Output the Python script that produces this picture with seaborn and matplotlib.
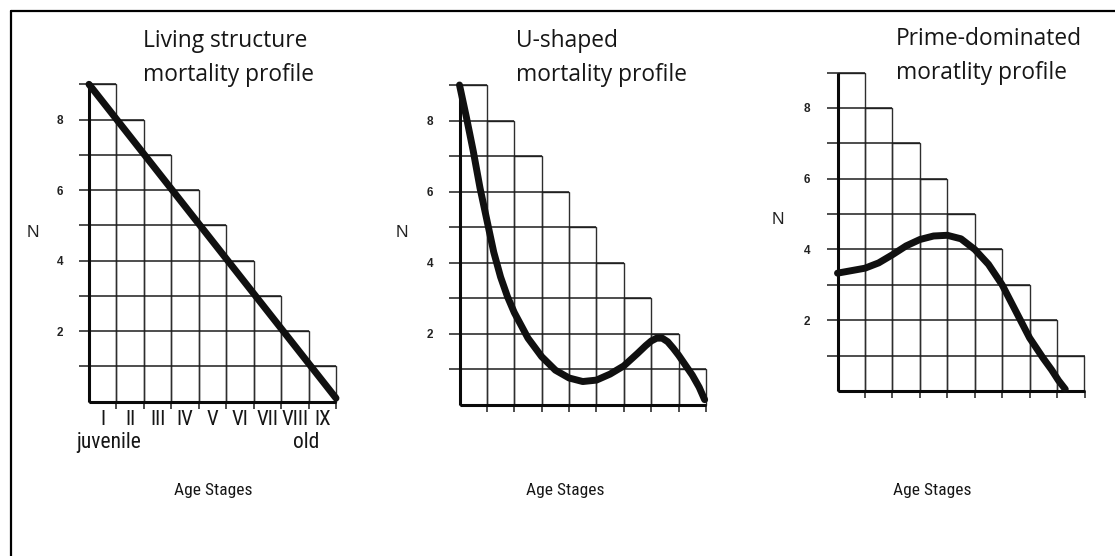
import numpy as np
import matplotlib
matplotlib.use("Agg")
import matplotlib.pyplot as plt
from matplotlib.lines import Line2D
import seaborn as sns

# ---------------- data ----------------
stage_labels = ["I", "II", "III", "IV", "V", "VI", "VII", "VIII", "IX"]
bar_heights = [9, 8, 7, 6, 5, 4, 3, 2, 1]
y_ticks = [2, 4, 6, 8]
y_tick_labels = ["2", "4", "6", "8"]

title_lines = [
    ("Living structure", "mortality profile"),
    ("U-shaped", "mortality profile"),
    ("Prime-dominated", "moratlity profile"),
]
x_label = "Age Stages"
y_label = "N"
age_notes = ["juvenile", "old"]

# curves, x measured in age-stage widths from the left axis
living_x = [0.0, 9.0]
living_n = [9.0, 0.1]

ushape_x = [0.0, 0.25, 0.5, 0.75, 1.0, 1.25, 1.5, 1.75, 2.0, 2.5, 3.0, 3.5,
            4.0, 4.5, 5.0, 5.5, 6.0, 6.5, 6.8, 7.0, 7.2, 7.4, 7.6, 7.8,
            8.0, 8.25, 8.5, 8.75, 8.95]
ushape_n = [9.0, 8.1, 7.15, 6.1, 5.2, 4.3, 3.6, 3.05, 2.6, 1.88, 1.36, 0.98,
            0.76, 0.66, 0.70, 0.87, 1.1, 1.45, 1.67, 1.8, 1.88, 1.88, 1.78, 1.6,
            1.4, 1.12, 0.84, 0.5, 0.15]

prime_x = [0.0, 0.5, 1.0, 1.5, 2.0, 2.5, 3.0, 3.5, 4.0, 4.5, 5.0, 5.5,
           6.0, 6.5, 7.0, 7.5, 7.8, 8.05, 8.3]
prime_n = [3.33, 3.4, 3.47, 3.62, 3.85, 4.1, 4.28, 4.38, 4.4, 4.3, 4.0, 3.58,
           3.0, 2.25, 1.5, 0.92, 0.6, 0.3, 0.05]

curves = [(living_x, living_n), (ushape_x, ushape_n), (prime_x, prime_n)]

# ---------------- layout (pixels) ----------------
W, H = 1115, 556
panels = [
    dict(xl=89.0, xr=336.0, yb=401.7, yt=84.3, title_x=143, title_y=(47, 80.7),
         n_xy=(33, 232), tick_cx=60, xlabel_x=213),
    dict(xl=459.5, xr=706.0, yb=405.0, yt=85.0, title_x=516, title_y=(47, 80.7),
         n_xy=(402, 232), tick_cx=430, xlabel_x=565),
    dict(xl=837.5, xr=1084.5, yb=391.0, yt=72.5, title_x=896, title_y=(44.5, 79),
         n_xy=(778, 219), tick_cx=807, xlabel_x=932),
]

sns.set_style("white")
plt.rcParams["font.family"] = ["Open Sans", "DejaVu Sans"]

NARROW = ["Liberation Sans Narrow", "Roboto Condensed", "Open Sans Condensed",
          "Open Sans"]
INK = "#161616"

fig = plt.figure(figsize=(W / 100, H / 100), dpi=100)
fig.patch.set_facecolor("white")


def fx(px):
    return px / W


def fy(py):
    return 1 - py / H


XL, XR = -2.2, 9.2
YB, YT = -1.2, 9.6

for i, p in enumerate(panels):
    ux = (p["xr"] - p["xl"]) / 9.0
    uy = (p["yb"] - p["yt"]) / 9.0
    left_px = p["xl"] - (-0.5 - XL) * ux
    width_px = (XR - XL) * ux
    bottom_px = p["yb"] + (0 - YB) * uy
    height_px = (YT - YB) * uy
    ax = fig.add_axes([left_px / W, 1 - bottom_px / H, width_px / W, height_px / H])
    ax.set_facecolor("none")

    sns.barplot(x=stage_labels, y=bar_heights, width=1.0, fill=False,
                color="#2e2e2e", linewidth=1.0, errorbar=None, ax=ax)

    heights = np.array(bar_heights)
    for k in range(1, int(heights.max()) + 1):
        idx = np.where(heights >= k)[0].max()
        ax.hlines(k, -0.5 - 0.37, idx + 0.5, color="#1c1c1c", lw=1.1, zorder=2)
    for j in range(len(bar_heights)):
        ax.vlines(j + 0.5, -0.2, 0, color="#1c1c1c", lw=1.1, zorder=2)
    ax.vlines(-0.5, 0, heights.max(), color="#0a0a0a", lw=2.2, zorder=3)
    ax.hlines(0, -0.5, len(bar_heights) - 0.5, color="#0a0a0a", lw=2.2, zorder=3)

    cx, cy = curves[i]
    sns.lineplot(x=np.array(cx) - 0.5, y=cy, color="#101010", linewidth=5.0,
                 ax=ax, solid_capstyle="round", solid_joinstyle="round", zorder=4)

    ax.set_xlim(XL, XR)
    ax.set_ylim(YB, YT)
    for s in ax.spines.values():
        s.set_visible(False)
    ax.spines["left"].set_position(("data", -0.5))
    ax.spines["bottom"].set_position(("data", 0))

    ax.set_yticks(y_ticks)
    ax.set_yticklabels(y_tick_labels, fontsize=8.5, fontweight="bold",
                       family=["Liberation Sans", "DejaVu Sans"], color="#222222")
    pad_px = p["xl"] - (p["tick_cx"] + 3.3)
    ax.tick_params(axis="y", length=0, pad=pad_px * 0.72)

    if i == 0:
        ax.set_xticks(range(len(stage_labels)))
        ax.set_xticklabels(stage_labels, fontsize=15, family=NARROW, color=INK)
        ax.tick_params(axis="x", length=0, pad=6)
    else:
        ax.set_xticks([])
    ax.set_xlabel("")
    ax.set_ylabel("")

    fig.text(fx(p["title_x"]), fy(p["title_y"][0]), title_lines[i][0],
             fontsize=16.4, ha="left", va="baseline", color=INK)
    fig.text(fx(p["title_x"]), fy(p["title_y"][1]), title_lines[i][1],
             fontsize=16.4, ha="left", va="baseline", color=INK)
    fig.text(fx(p["n_xy"][0]), fy(p["n_xy"][1]), y_label, fontsize=12.5,
             family=["Liberation Sans", "DejaVu Sans"], ha="center", va="center",
             color="#222222")
    fig.text(fx(p["xlabel_x"]), fy(491), x_label, fontsize=12.5, family=NARROW,
             ha="center", va="center", color=INK)

fig.text(fx(109), fy(448), age_notes[0], fontsize=15.5, family=NARROW,
         ha="center", va="baseline", color=INK)
fig.text(fx(306), fy(448), age_notes[1], fontsize=15.5, family=NARROW,
         ha="center", va="baseline", color=INK)

fig.add_artist(Line2D([fx(11), fx(11)], [0, fy(11)], transform=fig.transFigure,
                      color="black", lw=1.6))
fig.add_artist(Line2D([fx(11), 1], [fy(11), fy(11)], transform=fig.transFigure,
                      color="black", lw=1.6))

fig.savefig("out.png", dpi=100, facecolor="white")
